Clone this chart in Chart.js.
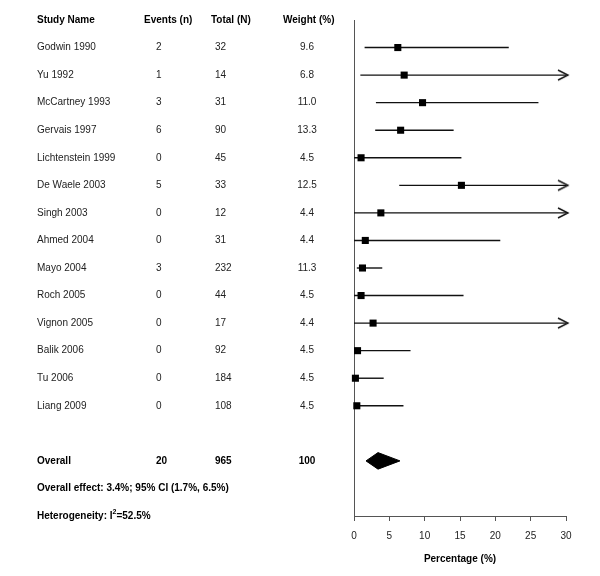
<!DOCTYPE html>
<html lang="en">
<head>
    <meta charset="UTF-8">
    <title>Forest plot</title>
    <script src="https://cdn.jsdelivr.net/npm/chart.js"></script>
    <style>
        body {
            margin: 0;
            background-color: #ffffff;
        }
        canvas {
            display: block;
        }
    </style>
</head>
<body>
    <canvas id="forest" width="600" height="576"></canvas>

    <script>
        // datos de los estudios
        const studies = ['Godwin 1990', 'Yu 1992', 'McCartney 1993', 'Gervais 1997', 'Lichtenstein 1999',
            'De Waele 2003', 'Singh 2003', 'Ahmed 2004', 'Mayo 2004', 'Roch 2005', 'Vignon 2005',
            'Balik 2006', 'Tu 2006', 'Liang 2009'];
        const events = [2, 1, 3, 6, 0, 5, 0, 0, 3, 0, 0, 0, 0, 0];
        const totals = [32, 14, 31, 90, 45, 33, 12, 31, 232, 44, 17, 92, 184, 108];
        const weights = ['9.6', '6.8', '11.0', '13.3', '4.5', '12.5', '4.4', '4.4', '11.3', '4.5', '4.4', '4.5', '4.5', '4.5'];
        const estimates = [6.2, 7.1, 9.7, 6.6, 1.0, 15.2, 3.8, 1.6, 1.2, 1.0, 2.7, 0.5, 0.2, 0.4];
        const ciLower = [1.5, 0.9, 3.1, 3.0, 0, 6.4, 0, 0, 0.4, 0, 0, 0, 0, 0];
        const ciUpper = [21.9, 33.9, 26.1, 14.1, 15.2, 31.9, 32.0, 20.7, 4.0, 15.5, 31.0, 8.0, 4.2, 7.0];

        // resultado global
        const overallEvents = 20;
        const overallTotal = 965;
        const overallWeight = '100';
        const overallEstimate = 3.4;
        const overallLower = 1.7;
        const overallUpper = 6.5;
        const heterogeneity = '52.5%';

        const xTicks = [0, 5, 10, 15, 20, 25, 30];
        const xMax = 30;

        // filas: 0 = cabecera, 1..14 estudios, 16 overall, 17 efecto, 18 heterogeneidad
        const firstStudyRow = 1;
        const overallRow = 16;
        const effectRow = 17;
        const hetRow = 18;

        const FONT = 'Liberation Sans, Arial, sans-serif';

        // flecha para intervalos que pasan de 30
        const arrowImg = document.createElement('canvas');
        arrowImg.width = 20;
        arrowImg.height = 14;
        const actx = arrowImg.getContext('2d');
        actx.strokeStyle = '#111';
        actx.lineWidth = 1.4;
        actx.beginPath();
        actx.moveTo(2, 2);
        actx.lineTo(12, 7);
        actx.lineTo(2, 12);
        actx.stroke();

        const datasets = [];

        // líneas de IC
        studies.forEach((name, i) => {
            datasets.push({
                type: 'line',
                data: [
                    { x: ciLower[i], y: i + firstStudyRow },
                    { x: Math.min(ciUpper[i], xMax), y: i + firstStudyRow }
                ],
                borderColor: '#111',
                borderWidth: 1.4,
                pointRadius: 0,
                order: 2,
                clip: false
            });
        });

        // flechas
        datasets.push({
            type: 'scatter',
            data: studies.map((n, i) => ciUpper[i] > xMax ? { x: xMax, y: i + firstStudyRow } : null)
                .filter(p => p !== null),
            pointStyle: arrowImg,
            order: 1,
            clip: false
        });

        // estimaciones
        datasets.push({
            type: 'scatter',
            data: estimates.map((v, i) => ({ x: v, y: i + firstStudyRow })),
            pointStyle: 'rect',
            pointRadius: 5,
            backgroundColor: '#000',
            borderColor: '#000',
            borderWidth: 0,
            order: 0,
            clip: false
        });

        // diamante global
        datasets.push({
            type: 'line',
            data: [
                { x: overallLower, y: overallRow },
                { x: overallEstimate, y: overallRow - 0.3 },
                { x: overallUpper, y: overallRow },
                { x: overallEstimate, y: overallRow + 0.3 },
                { x: overallLower, y: overallRow }
            ],
            borderColor: '#000',
            backgroundColor: '#000',
            borderWidth: 1,
            fill: 'shape',
            pointRadius: 0,
            tension: 0,
            order: 0
        });

        const tablePlugin = {
            id: 'tabla',
            afterDraw(chart) {
                const ctx = chart.ctx;
                const y = chart.scales.y;
                ctx.save();
                ctx.textBaseline = 'middle';

                const bold = 'bold 10px ' + FONT;
                const normal = '10px ' + FONT;

                // cabecera
                ctx.font = bold;
                ctx.fillStyle = '#000';
                ctx.textAlign = 'left';
                const hy = y.getPixelForValue(0);
                ctx.fillText('Study Name', 37, hy);
                ctx.fillText('Events (n)', 144, hy);
                ctx.fillText('Total (N)', 211, hy);
                ctx.fillText('Weight (%)', 283, hy);

                // estudios
                ctx.font = normal;
                ctx.fillStyle = '#222';
                studies.forEach((name, i) => {
                    const ry = y.getPixelForValue(i + firstStudyRow);
                    ctx.textAlign = 'left';
                    ctx.fillText(name, 37, ry);
                    ctx.fillText(String(events[i]), 156, ry);
                    ctx.fillText(String(totals[i]), 215, ry);
                    ctx.textAlign = 'center';
                    ctx.fillText(weights[i], 307, ry);
                });

                // global
                ctx.font = bold;
                ctx.fillStyle = '#000';
                const oy = y.getPixelForValue(overallRow);
                ctx.textAlign = 'left';
                ctx.fillText('Overall', 37, oy);
                ctx.fillText(String(overallEvents), 156, oy);
                ctx.fillText(String(overallTotal), 215, oy);
                ctx.textAlign = 'center';
                ctx.fillText(overallWeight, 307, oy);

                ctx.textAlign = 'left';
                ctx.fillText('Overall effect: ' + overallEstimate + '%; 95% CI (' + overallLower + '%, ' + overallUpper + '%)',
                    37, y.getPixelForValue(effectRow));

                const hty = y.getPixelForValue(hetRow);
                const part1 = 'Heterogeneity: I';
                ctx.fillText(part1, 37, hty);
                let px = 37 + ctx.measureText(part1).width;
                ctx.font = 'bold 7px ' + FONT;
                ctx.fillText('2', px, hty - 4);
                px += ctx.measureText('2').width;
                ctx.font = bold;
                ctx.fillText('=' + heterogeneity, px, hty);

                ctx.restore();
            }
        };

        new Chart(document.getElementById('forest').getContext('2d'), {
            data: { datasets: datasets },
            options: {
                responsive: false,
                animation: false,
                events: [],
                layout: {
                    padding: { left: 354, right: 34, top: 20, bottom: 7 }
                },
                scales: {
                    x: {
                        type: 'linear',
                        min: 0,
                        max: xMax,
                        afterBuildTicks: axis => {
                            axis.ticks = xTicks.map(v => ({ value: v }));
                        },
                        grid: {
                            drawOnChartArea: false,
                            drawTicks: true,
                            tickLength: 5,
                            color: '#555'
                        },
                        border: { color: '#555', width: 1 },
                        ticks: {
                            color: '#222',
                            padding: 9,
                            font: { family: FONT, size: 10 }
                        },
                        title: {
                            display: true,
                            text: 'Percentage (%)',
                            color: '#000',
                            padding: { top: 2, bottom: 4 },
                            font: { family: FONT, size: 10, weight: 'bold' }
                        }
                    },
                    y: {
                        type: 'linear',
                        reverse: true,
                        min: 0,
                        max: hetRow,
                        ticks: { display: false },
                        grid: { display: false, drawTicks: false },
                        border: { display: true, color: '#555', width: 1 }
                    }
                },
                plugins: {
                    legend: { display: false },
                    tooltip: { enabled: false }
                }
            },
            plugins: [tablePlugin]
        });
    </script>
</body>
</html>
